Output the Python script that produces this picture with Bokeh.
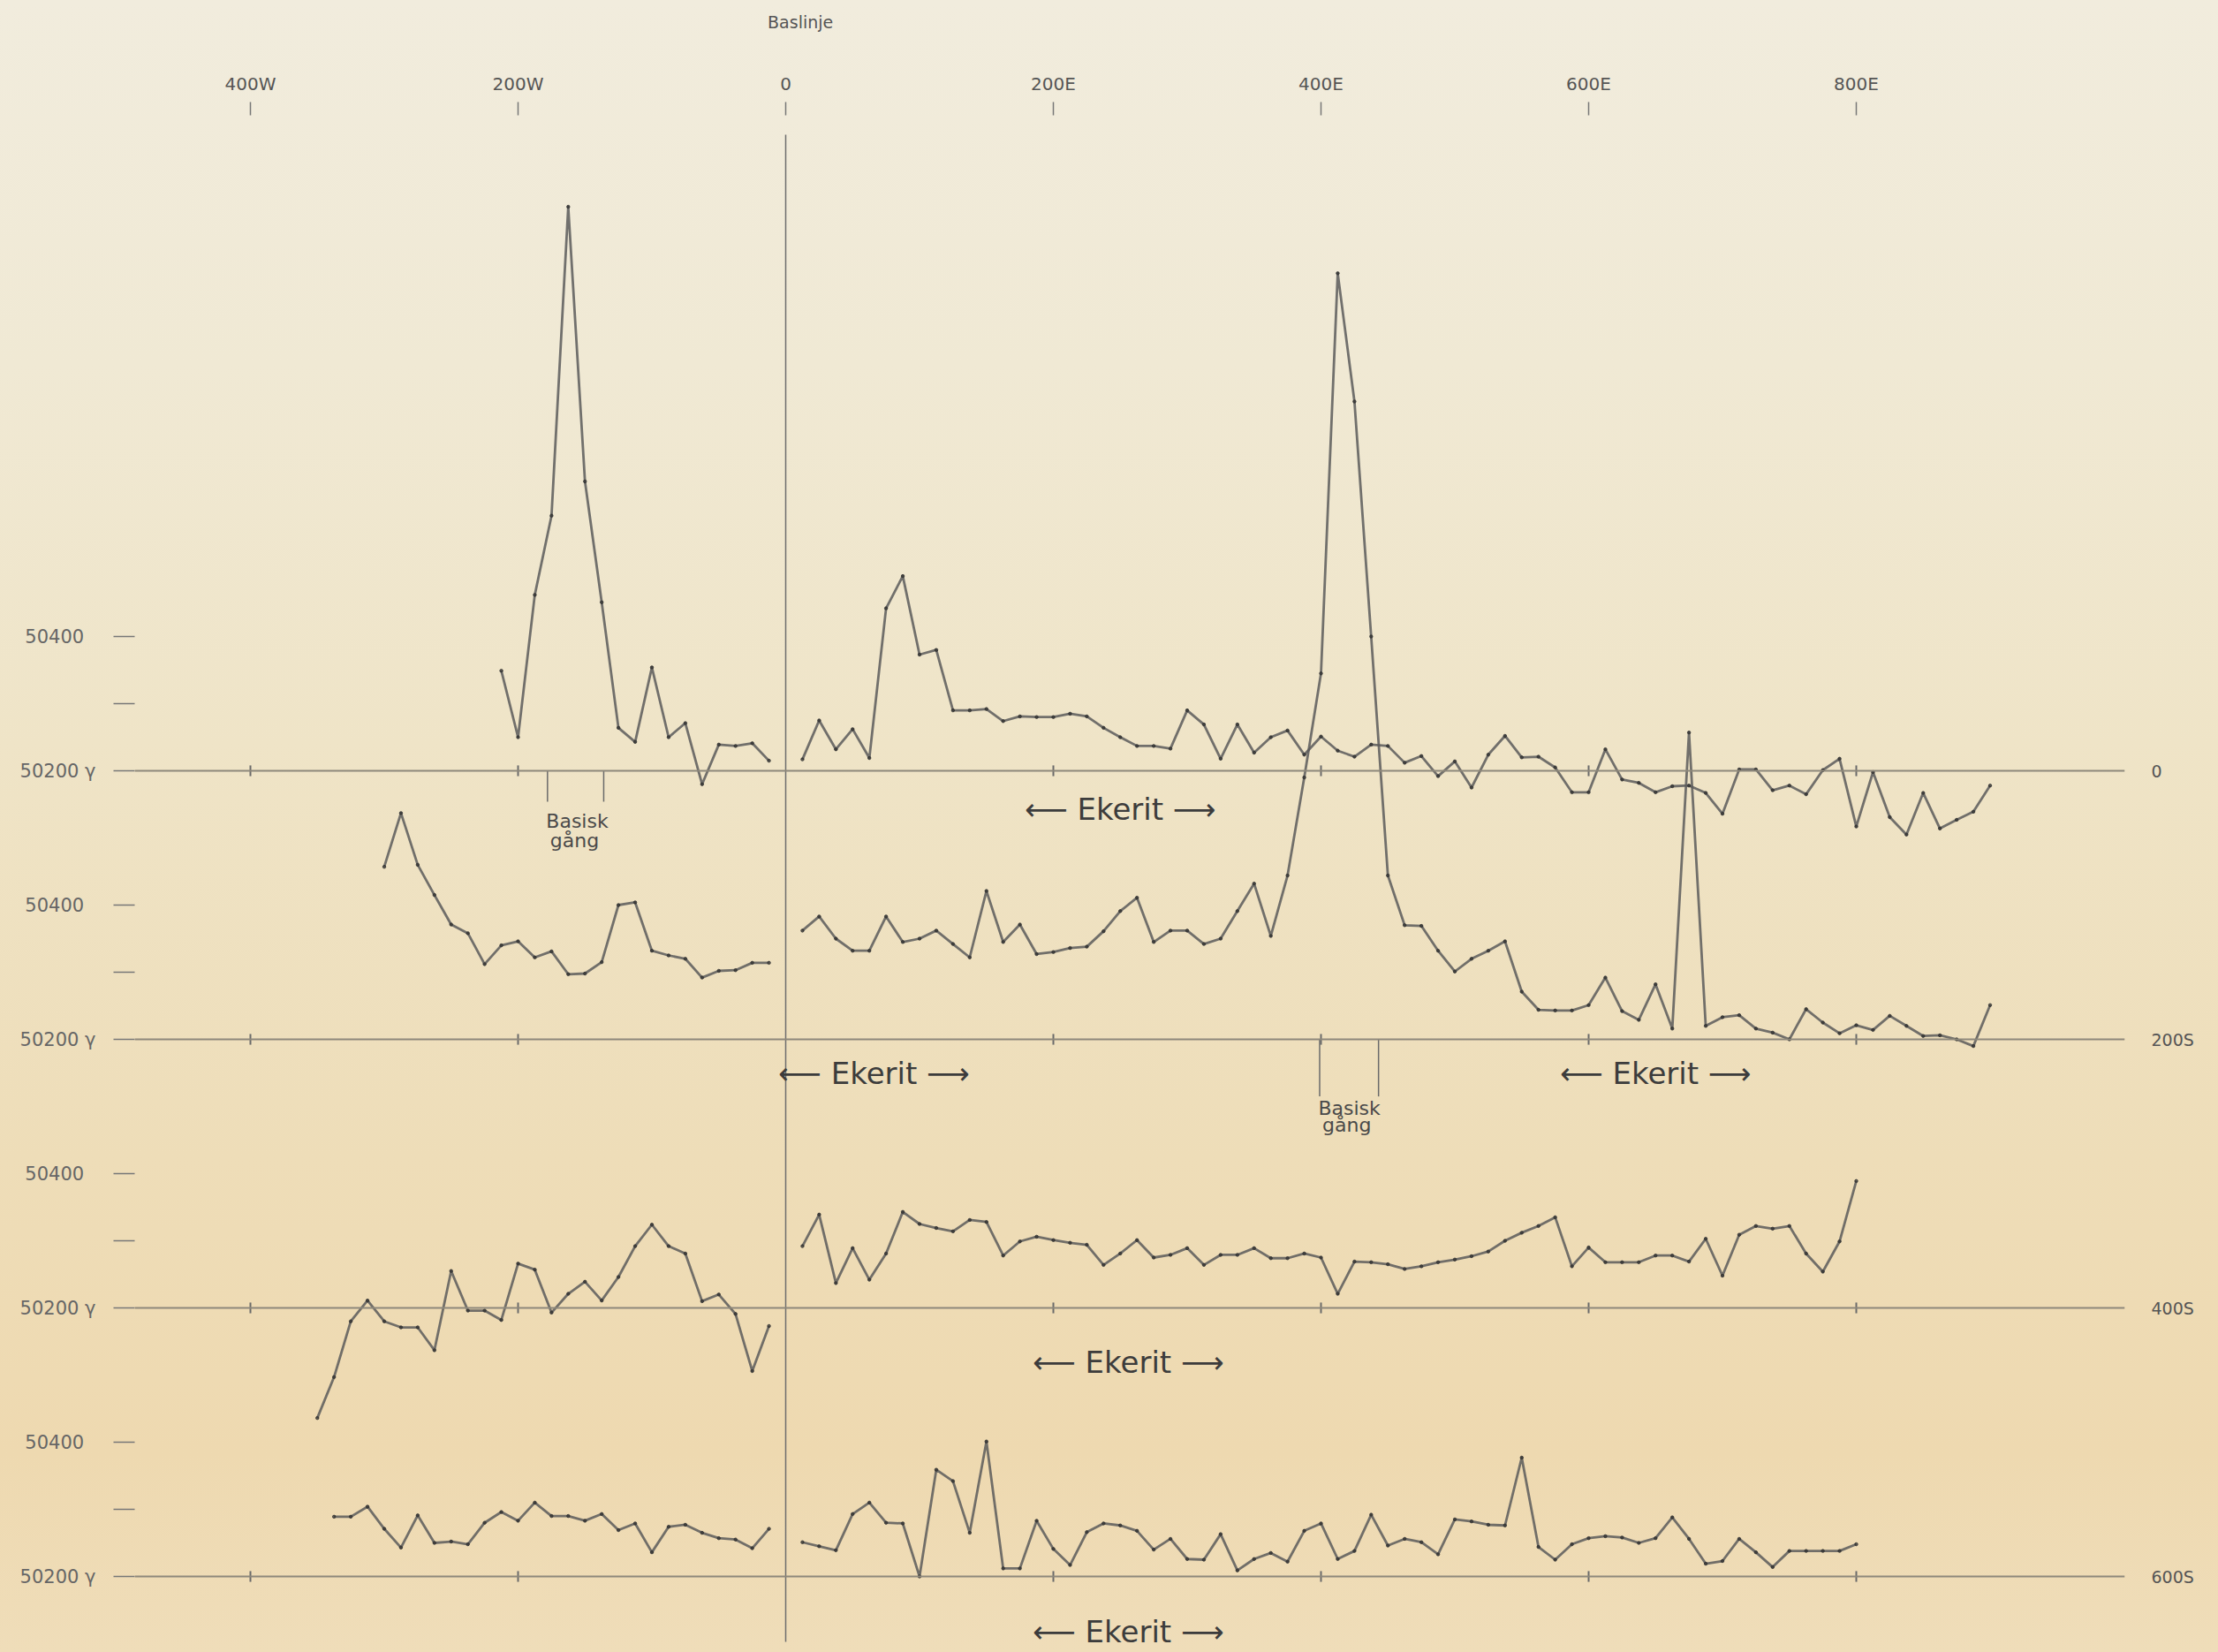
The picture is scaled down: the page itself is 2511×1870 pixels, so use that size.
from bokeh.plotting import figure
from bokeh.models import LinearAxis, FixedTicker, Range1d, Span
from bokeh.core.properties import value
from bokeh.embed import file_html
from bokeh.resources import INLINE

# ---------------------------------------------------------------------------
# Magnetic total-field profiles (gamma) along four lines: 0, 200S, 400S, 600S.
# Stations in metres from the base line (negative = W, positive = E).
# ---------------------------------------------------------------------------

p0_w_x = [-212.5, -200, -187.5, -175, -162.5, -150, -137.5, -125, -112.5, -100,
          -87.5, -75, -62.5, -50, -37.5, -25, -12.5]
p0_w = [50349, 50250, 50462, 50580, 51040, 50631, 50451, 50264, 50243, 50354,
        50250, 50271, 50180, 50239, 50237, 50241, 50215]

p0_e_x = [12.5, 25, 37.5, 50, 62.5, 75, 87.5, 100, 112.5, 125, 137.5, 150,
          162.5, 175, 187.5, 200, 212.5, 225, 237.5, 250, 262.5, 275, 287.5, 300,
          312.5, 325, 337.5, 350, 362.5, 375, 387.5, 400, 412.5, 425, 437.5, 450,
          462.5, 475, 487.5, 500, 512.5, 525, 537.5, 550, 562.5, 575, 587.5, 600,
          612.5, 625, 637.5, 650, 662.5, 675, 687.5, 700, 712.5, 725, 737.5, 750,
          762.5, 775, 787.5, 800, 812.5, 825, 837.5, 850, 862.5, 875, 887.5, 900]
p0_e = [50217, 50275, 50232, 50262, 50219, 50442, 50490, 50373, 50380, 50290, 50290, 50292,
        50274, 50281, 50280, 50280, 50285, 50281, 50264, 50250, 50237, 50237, 50233, 50290,
        50269, 50218, 50269, 50227, 50250, 50260, 50224, 50251, 50230, 50221, 50239, 50237,
        50212, 50222, 50192, 50214, 50175, 50224, 50252, 50220, 50221, 50205, 50168, 50168,
        50232, 50187, 50182, 50168, 50177, 50178, 50167, 50136, 50202, 50202, 50171, 50178,
        50165, 50201, 50218, 50117, 50198, 50131, 50105, 50167, 50114, 50127, 50139, 50178]

p200_w_x = [-300, -287.5, -275, -262.5, -250, -237.5, -225, -212.5, -200, -187.5,
            -175, -162.5, -150, -137.5, -125, -112.5, -100, -87.5, -75, -62.5,
            -50, -37.5, -25, -12.5]
p200_w = [50457, 50537, 50460, 50415, 50371, 50358, 50312, 50340, 50346, 50322,
          50331, 50297, 50298, 50315, 50400, 50404, 50332, 50325, 50320, 50292,
          50302, 50303, 50314, 50314]

p200_e_x = [12.5, 25, 37.5, 50, 62.5, 75, 87.5, 100, 112.5, 125, 137.5, 150,
            162.5, 175, 187.5, 200, 212.5, 225, 237.5, 250, 262.5, 275, 287.5, 300,
            312.5, 325, 337.5, 350, 362.5, 375, 387.5, 400, 412.5, 425, 437.5, 450,
            462.5, 475, 487.5, 500, 512.5, 525, 537.5, 550, 562.5, 575, 587.5, 600,
            612.5, 625, 637.5, 650, 662.5, 675, 687.5, 700, 712.5, 725, 737.5, 750,
            762.5, 775, 787.5, 800, 812.5, 825, 837.5, 850, 862.5, 875, 887.5, 900]
p200_e = [50362, 50383, 50350, 50332, 50332, 50383, 50345, 50350, 50362, 50342, 50322, 50421,
          50345, 50371, 50327, 50330, 50336, 50338, 50361, 50391, 50411, 50345, 50362, 50362,
          50342, 50350, 50391, 50432, 50354, 50444, 50590, 50745, 51341, 51150, 50800, 50444,
          50370, 50369, 50332, 50301, 50320, 50332, 50346, 50271, 50244, 50243, 50243, 50251,
          50292, 50242, 50229, 50282, 50216, 50657, 50220, 50233, 50236, 50216, 50210, 50200,
          50245, 50225, 50209, 50221, 50214, 50235, 50220, 50205, 50206, 50200, 50190, 50251]

p400_w_x = [-350, -337.5, -325, -312.5, -300, -287.5, -275, -262.5, -250, -237.5,
            -225, -212.5, -200, -187.5, -175, -162.5, -150, -137.5, -125, -112.5,
            -100, -87.5, -75, -62.5, -50, -37.5, -25, -12.5]
p400_w = [50036, 50097, 50180, 50211, 50180, 50171, 50171, 50137, 50255, 50196,
          50196, 50182, 50266, 50257, 50193, 50221, 50239, 50211, 50246, 50292,
          50324, 50292, 50281, 50210, 50220, 50191, 50106, 50173]

p400_e_x = [12.5, 25, 37.5, 50, 62.5, 75, 87.5, 100, 112.5, 125, 137.5, 150,
            162.5, 175, 187.5, 200, 212.5, 225, 237.5, 250, 262.5, 275, 287.5, 300,
            312.5, 325, 337.5, 350, 362.5, 375, 387.5, 400, 412.5, 425, 437.5, 450,
            462.5, 475, 487.5, 500, 512.5, 525, 537.5, 550, 562.5, 575, 587.5, 600,
            612.5, 625, 637.5, 650, 662.5, 675, 687.5, 700, 712.5, 725, 737.5, 750,
            762.5, 775, 787.5, 800]
p400_e = [50292, 50339, 50237, 50289, 50242, 50281, 50343, 50325, 50319, 50314, 50331, 50328,
          50278, 50299, 50306, 50301, 50297, 50294, 50264, 50281, 50301, 50275, 50279, 50289,
          50264, 50279, 50279, 50289, 50274, 50274, 50281, 50275, 50221, 50269, 50268, 50265,
          50258, 50262, 50268, 50272, 50277, 50284, 50300, 50312, 50322, 50335, 50262, 50290,
          50268, 50268, 50268, 50278, 50278, 50269, 50303, 50248, 50309, 50322, 50318, 50322,
          50281, 50254, 50299, 50389]

p600_w_x = [-337.5, -325, -312.5, -300, -287.5, -275, -262.5, -250, -237.5, -225,
            -212.5, -200, -187.5, -175, -162.5, -150, -137.5, -125, -112.5, -100,
            -87.5, -75, -62.5, -50, -37.5, -25, -12.5]
p600_w = [50289, 50289, 50304, 50271, 50243, 50291, 50250, 50252, 50248, 50280,
          50296, 50283, 50310, 50290, 50290, 50283, 50293, 50269, 50279, 50236,
          50274, 50277, 50265, 50257, 50255, 50242, 50271]

p600_e_x = [12.5, 25, 37.5, 50, 62.5, 75, 87.5, 100, 112.5, 125, 137.5, 150,
            162.5, 175, 187.5, 200, 212.5, 225, 237.5, 250, 262.5, 275, 287.5, 300,
            312.5, 325, 337.5, 350, 362.5, 375, 387.5, 400, 412.5, 425, 437.5, 450,
            462.5, 475, 487.5, 500, 512.5, 525, 537.5, 550, 562.5, 575, 587.5, 600,
            612.5, 625, 637.5, 650, 662.5, 675, 687.5, 700, 712.5, 725, 737.5, 750,
            762.5, 775, 787.5, 800]
p600_e = [50251, 50245, 50239, 50293, 50310, 50280, 50279, 50200, 50359, 50342, 50265, 50401,
          50212, 50212, 50283, 50241, 50217, 50266, 50279, 50276, 50268, 50240, 50256, 50226,
          50225, 50263, 50209, 50226, 50235, 50222, 50268, 50279, 50226, 50238, 50292, 50246,
          50256, 50251, 50233, 50285, 50282, 50277, 50276, 50377, 50244, 50225, 50248, 50257,
          50260, 50258, 50250, 50257, 50288, 50256, 50219, 50223, 50256, 50236, 50214, 50238,
          50238, 50238, 50238, 50248]

profile_names = ["0", "200S", "400S", "600S"]
profiles = [
    (p0_w_x, p0_w, p0_e_x, p0_e),
    (p200_w_x, p200_w, p200_e_x, p200_e),
    (p400_w_x, p400_w, p400_e_x, p400_e),
    (p600_w_x, p600_w, p600_e_x, p600_e),
]

top_ticks = [-400, -200, 0, 200, 400, 600, 800]
top_labels = ["400W", "200W", "0", "200E", "400E", "600E", "800E"]

# Basic dykes: (profile index, west edge, east edge)
dykes = [(0, -178, -136), (1, 399, 443)]

# Rock unit labels: (profile index, centre station)
ekerit = [(0, 250), (1, 66), (1, 650), (2, 256), (3, 256)]

BASE = 50200          # reference level drawn on each profile's line
STEP = 400            # vertical spacing between profiles, in gamma

# ---------------------------------------------------------------------------
# Page geometry: 1.515 px per metre, 0.76 px per gamma
# ---------------------------------------------------------------------------
W, H = 2511, 1870
LEFT, RIGHT, TOP, BOTTOM = 152, 106, 130, 0
PX_M, PX_G = 1.515, 0.76
X0, Y0 = 889, 872      # canvas position of station 0 on profile 0's base level

x_start = (LEFT - X0) / PX_M
x_end = (W - RIGHT - X0) / PX_M
y_end = (Y0 - TOP) / PX_G
y_start = (Y0 - (H - BOTTOM)) / PX_G


def ypx(py):
    """y in plot units for a canvas pixel row"""
    return (Y0 - py) / PX_G


p = figure(width=W, height=H,
           x_range=Range1d(x_start, x_end), y_range=Range1d(y_start, y_end),
           output_backend="svg", toolbar_location=None,
           x_axis_location=None, y_axis_location=None,
           min_border_left=LEFT, min_border_right=RIGHT,
           min_border_top=TOP, min_border_bottom=BOTTOM)
p.grid.visible = False
p.outline_line_color = None
p.background_fill_alpha = 0
p.border_fill_alpha = 0
p.styles = {"background": "linear-gradient(180deg, #F1ECDD 0%, #F0E9D4 22%, "
                          "#EFE4C7 45%, #EEDDB8 70%, #EED9B0 88%, #EFDDB9 100%)"}

FONT = "DejaVu Sans"
INK = "#555555"

# top station axis
top = LinearAxis(ticker=FixedTicker(ticks=top_ticks),
                 major_label_overrides={t: s for t, s in zip(top_ticks, top_labels)})
top.axis_line_color = None
top.major_tick_out = 15
top.major_tick_in = 0
top.major_tick_line_color = "#777777"
top.major_tick_line_width = 1.5
top.minor_tick_line_color = None
top.major_label_standoff = 9
top.major_label_text_font = FONT
top.major_label_text_font_size = "20px"
top.major_label_text_color = INK
p.add_layout(top, "above")

# caption of the base line, stacked above the station labels
cap = LinearAxis(ticker=FixedTicker(ticks=[11]), major_label_overrides={11: "Baslinje"})
cap.axis_line_color = None
cap.major_tick_line_color = None
cap.minor_tick_line_color = None
cap.major_label_standoff = 38
cap.major_label_text_font = FONT
cap.major_label_text_font_size = "19px"
cap.major_label_text_color = INK
p.add_layout(cap, "above")

# left gamma scale repeated for each profile
lt, ll = [], {}
for k in range(len(profiles)):
    off = -STEP * k
    for g, lab in ((0, "50200 γ"), (100, ""), (200, "50400\u00a0\u00a0")):
        lt.append(off + g)
        ll[off + g] = lab
left = LinearAxis(ticker=FixedTicker(ticks=lt), major_label_overrides=ll)
left.axis_line_color = None
left.major_tick_out = 24
left.major_tick_in = 0
left.major_tick_line_color = "#777777"
left.major_tick_line_width = 1.5
left.minor_tick_line_color = None
left.major_label_standoff = 20
left.major_label_text_font = FONT
left.major_label_text_font_size = "21px"
left.major_label_text_color = "#666666"
p.add_layout(left, "left")

# right: profile names
rt = [-STEP * k for k in range(len(profiles))]
right = LinearAxis(ticker=FixedTicker(ticks=rt),
                   major_label_overrides={t: n for t, n in zip(rt, profile_names)})
right.axis_line_color = None
right.major_tick_line_color = None
right.minor_tick_line_color = None
right.major_label_standoff = 24
right.major_label_text_font = FONT
right.major_label_text_font_size = "19px"
right.major_label_text_color = INK
p.add_layout(right, "right")

# base line (station 0)
p.segment(x0=[0], y0=[ypx(152)], x1=[0], y1=[ypx(1858)],
          line_color="#6e6e6e", line_width=1.5)

# per-profile reference level with station ticks
tick_x = [-400, -200, 200, 400, 600, 800]
for k in range(len(profiles)):
    off = -STEP * k
    p.add_layout(Span(location=off, dimension="width",
                      line_color="#8d887b", line_width=2))
    p.segment(x0=tick_x, y0=[off - 8] * len(tick_x), x1=tick_x, y1=[off + 8] * len(tick_x),
              line_color="#6a6a6a", line_width=2)

# the profiles themselves
for k, (wx, wv, ex, ev) in enumerate(profiles):
    off = -STEP * k
    for xs, vs in ((wx, wv), (ex, ev)):
        ys = [v - BASE + off for v in vs]
        p.line(xs, ys, line_color="#5a5a5a", line_width=2.8, line_alpha=0.85,
               line_join="round")
        p.scatter(xs, ys, size=3.5, color="#2f2f2f", alpha=0.75)

# dyke brackets and captions
for k, xa, xb in dykes:
    off = -STEP * k
    depth = 46 if k == 0 else 85
    p.segment(x0=[xa, xb], y0=[off, off], x1=[xa, xb], y1=[off - depth, off - depth],
              line_color="#6a6a6a", line_width=1.5)
    t1 = -75 if k == 0 else -102
    t2 = -104 if k == 0 else -128
    p.text(x=[xa - 1, xa + 2], y=[off + t1, off + t2], text=["Basisk", "gång"],
           text_font=value(FONT), text_font_size="22px", text_color="#4a4a4a",
           text_align="left", text_baseline="alphabetic")

# rock unit captions
ek_dy = [-57, -50, -50, -81, -82]
p.text(x=[x for _, x in ekerit],
       y=[-STEP * k + dy for (k, _), dy in zip(ekerit, ek_dy)],
       text=["⟵ Ekerit ⟶"] * len(ekerit),
       text_font=value(FONT), text_font_size="34px", text_color="#3c3c3c",
       text_align="center", text_baseline="middle")

open("out.html", "w").write(file_html(p, INLINE, title="Magnetiska profiler"))
